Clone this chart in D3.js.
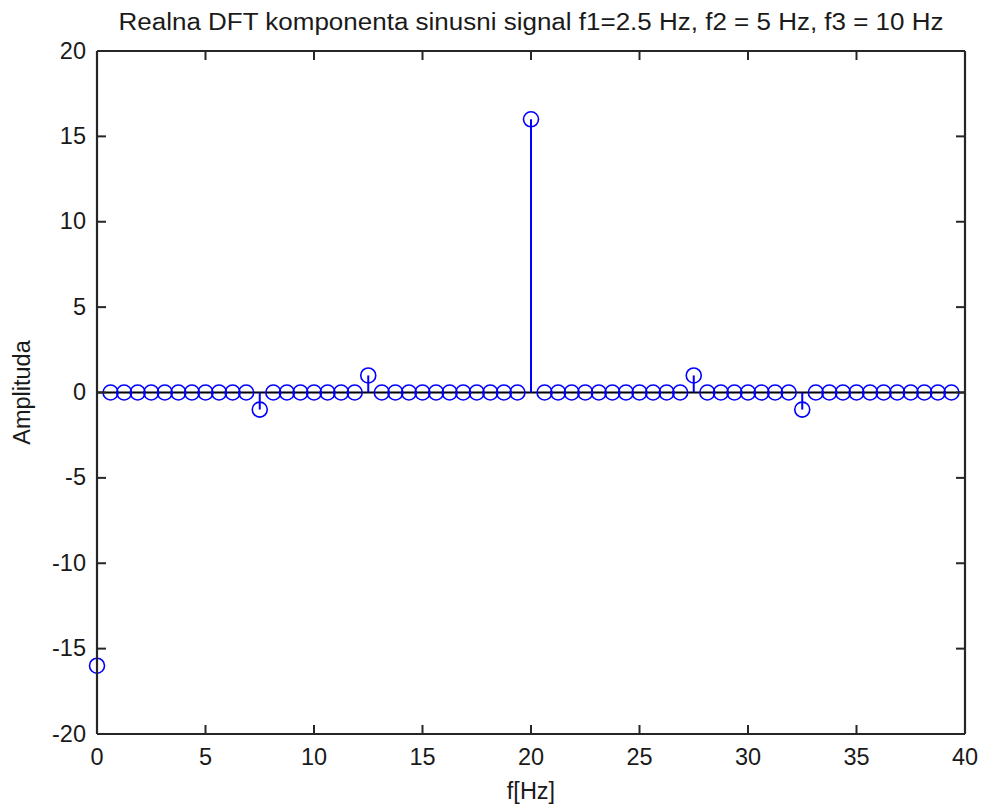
<!DOCTYPE html>
<html>
<head>
<meta charset="utf-8">
<script src="https://cdn.jsdelivr.net/npm/d3@7"></script>
<style>
html,body{margin:0;padding:0;background:#fff;}
svg{display:block;}
text{font-family:"Liberation Sans",Arial,sans-serif;fill:#1a1a1a;}
</style>
</head>
<body>
<script>
const titleText = "Realna DFT komponenta sinusni signal f1=2.5 Hz, f2 = 5 Hz, f3 = 10 Hz";
const xLabel = "f[Hz]";
const yLabel = "Amplituda";
const freqStep = 0.625;
const nPoints = 64;
// amplitude per bin (index -> value), all others zero
const binIndex = [0, 12, 20, 32, 44, 52];
const binValue = [-16, -1, 1, 16, 1, -1];
const xTicks = [0, 5, 10, 15, 20, 25, 30, 35, 40];
const yTicks = [-20, -15, -10, -5, 0, 5, 10, 15, 20];

const freqs = d3.range(nPoints).map(i => i * freqStep);
const amps = freqs.map((f, i) => { const k = binIndex.indexOf(i); return k >= 0 ? binValue[k] : 0; });
const data = freqs.map((f, i) => ({f, a: amps[i]}));

const W = 983, H = 810;
const m = {left: 97, top: 51, right: 18, bottom: 76};
const iw = W - m.left - m.right, ih = H - m.top - m.bottom;

const svg = d3.select("body").append("svg").attr("width", W).attr("height", H);
const g = svg.append("g").attr("transform", `translate(${m.left},${m.top})`);

const x = d3.scaleLinear().domain([0, 40]).range([0, iw]);
const y = d3.scaleLinear().domain([-20, 20]).range([ih, 0]);

const fs = 23.5;
const tickLen = 9;

// baseline
g.append("line").attr("x1", x(0)).attr("x2", x(40)).attr("y1", y(0)).attr("y2", y(0))
  .attr("stroke", "#000").attr("stroke-width", 2);

// stems
g.selectAll("line.stem").data(data.filter(d => d.a !== 0)).enter().append("line").attr("class", "stem")
  .attr("x1", d => x(d.f)).attr("x2", d => x(d.f)).attr("y1", y(0)).attr("y2", d => y(d.a))
  .attr("stroke", "#0000ff").attr("stroke-width", 2);

// markers
g.selectAll("circle").data(data).enter().append("circle")
  .attr("cx", d => x(d.f)).attr("cy", d => y(d.a)).attr("r", 7.5)
  .attr("fill", "none").attr("stroke", "#0000ff").attr("stroke-width", 1.6);

// axes (drawn on top of data)
const axB = g.append("g").attr("transform", `translate(0,${ih})`)
  .call(d3.axisBottom(x).offset(0).tickValues(xTicks).tickFormat(d3.format("d")).tickSizeInner(-tickLen).tickSizeOuter(0).tickPadding(14));
const axT = g.append("g")
  .call(d3.axisTop(x).offset(0).tickValues(xTicks).tickFormat("").tickSizeInner(-tickLen).tickSizeOuter(0));
const axL = g.append("g")
  .call(d3.axisLeft(y).offset(0).tickValues(yTicks).tickFormat(d3.format("d")).tickSizeInner(-tickLen).tickSizeOuter(0).tickPadding(11));
const axR = g.append("g").attr("transform", `translate(${iw},0)`)
  .call(d3.axisRight(y).offset(0).tickValues(yTicks).tickFormat("").tickSizeInner(-tickLen).tickSizeOuter(0));

[axB, axT, axL, axR].forEach(a => {
  a.select(".domain").attr("stroke", "#262626").attr("stroke-width", 2.2);
  a.selectAll(".tick line").attr("stroke", "#262626").attr("stroke-width", 2);
  a.selectAll(".tick text").attr("font-size", fs).attr("fill", "#1a1a1a").attr("font-family", "Liberation Sans, Arial, sans-serif");
});
axL.selectAll(".tick text").text(d => d3.format("d")(d).replace("−", "-"));

// title
svg.append("text").attr("x", m.left + iw / 2).attr("y", 30).attr("text-anchor", "middle")
  .attr("font-size", fs).attr("textLength", 825).attr("lengthAdjust", "spacingAndGlyphs").text(titleText);
// x label
svg.append("text").attr("x", m.left + iw / 2).attr("y", 799).attr("text-anchor", "middle")
  .attr("font-size", fs).text(xLabel);
// y label
svg.append("text").attr("transform", `translate(30,${m.top + ih / 2}) rotate(-90)`).attr("text-anchor", "middle")
  .attr("font-size", fs).text(yLabel);
</script>
</body>
</html>
